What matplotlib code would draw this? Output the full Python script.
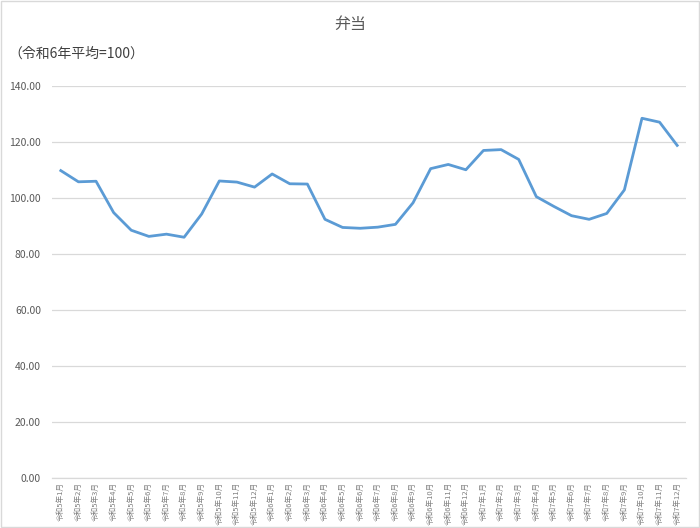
import matplotlib.pyplot as plt
import matplotlib.patches as mpatches
import numpy as np

plt.rcParams['font.family'] = ['Noto Sans CJK JP', 'DejaVu Sans']

# months 令和5年1月 .. 令和7年12月
months = [f'令和{y}年{m}月' for y in (5, 6, 7) for m in range(1, 13)]

# index values (令和6年平均=100)
values = [109.8, 105.8, 106.0, 94.8, 88.5, 86.3, 87.1, 86.0, 94.3, 106.1, 105.7, 103.9,
          108.6, 105.1, 105.0, 92.4, 89.5, 89.2, 89.6, 90.6, 98.3, 110.5, 112.0, 110.1,
          117.0, 117.3, 113.8, 100.5, 97.0, 93.7, 92.4, 94.5, 102.9, 128.5, 127.1, 118.8]

fig = plt.figure(figsize=(7.0, 5.28), dpi=100)
ax = fig.add_axes([0.0743, 0.0947, 0.9057, 0.7423])

x = np.arange(len(months))
ax.plot(x, values, color='#5B9BD5', linewidth=2.0, solid_joinstyle='round')

ax.set_xlim(-0.5, len(months) - 0.5)
ax.set_ylim(0, 140)
ax.set_yticks(np.arange(0, 141, 20))
ax.set_yticklabels([f'{v:.2f}' for v in np.arange(0, 141, 20)], fontsize=7.5, color='#595959')
ax.set_xticks(x)
ax.set_xticklabels(months, rotation=90, fontsize=5.5, color='#808080')

ax.yaxis.grid(True, color='#D9D9D9', linewidth=0.9)
ax.set_axisbelow(True)
for s in ['top', 'right', 'left']:
    ax.spines[s].set_visible(False)
ax.spines['bottom'].set_color('#D9D9D9')
ax.spines['bottom'].set_linewidth(0.9)
ax.tick_params(axis='both', length=0)
ax.tick_params(axis='y', pad=8)
ax.tick_params(axis='x', pad=3)

fig.text(0.5, 0.953, '弁当', ha='center', va='center', fontsize=11.5, color='#595959')
fig.text(0.012, 0.898, '（令和6年平均=100）', ha='left', va='center', fontsize=10, color='#404040')

# chart border
fig.patches.append(mpatches.Rectangle((0.001, 0.001), 0.998, 0.998, transform=fig.transFigure,
                                      fill=False, edgecolor='#D9D9D9', linewidth=1))

plt.savefig('out.png', dpi=100)
